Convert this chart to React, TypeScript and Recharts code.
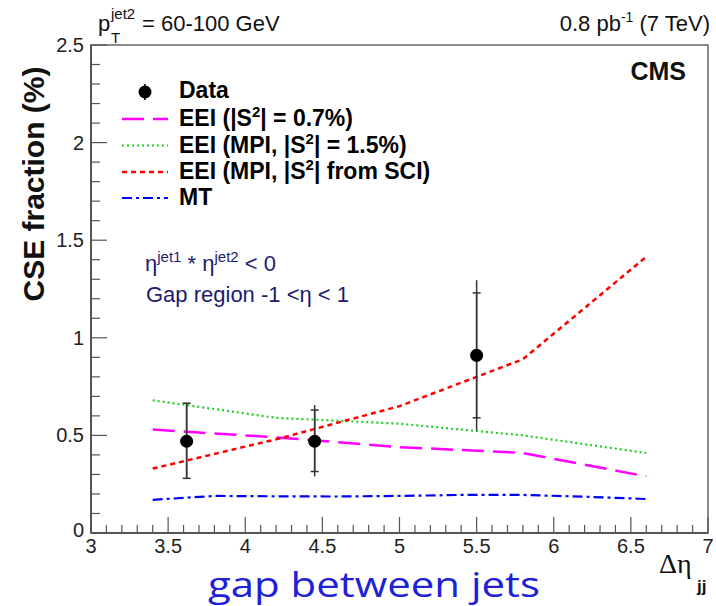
import {
  ComposedChart,
  Line,
  Scatter,
  ErrorBar,
  XAxis,
  YAxis,
  ReferenceArea,
} from 'recharts';

// theory curves, sampled at the bin edges of the model predictions
const modelX = [3.4, 4.2, 5.0, 5.8, 6.6];
const eeiFixed = [0.53, 0.49, 0.44, 0.41, 0.29];
const eeiMpi = [0.68, 0.59, 0.56, 0.5, 0.41];
const eeiSci = [0.33, 0.48, 0.65, 0.89, 1.415];

const mtX = [3.4, 3.8, 4.2, 4.6, 5.0, 5.4, 5.8, 6.2, 6.6];
const mtFrac = [0.17, 0.19, 0.188, 0.187, 0.19, 0.195, 0.195, 0.186, 0.174];

// measured points
const dataX = [3.62, 4.45, 5.5];
const dataY = [0.47, 0.47, 0.91];
const statLow = [0.28, 0.315, 0.59];
const statHigh = [0.665, 0.63, 1.23];
const totLow = [0.28, 0.29, 0.525];
const totHigh = [0.665, 0.655, 1.295];

// axis labels
const xMajor = [3, 3.5, 4, 4.5, 5, 5.5, 6, 6.5, 7];
const yMajor = [0, 0.5, 1, 1.5, 2, 2.5];
const xTicks = Array.from({ length: 41 }, (_, i) => (30 + i) / 10);
const yTicks = Array.from({ length: 26 }, (_, i) => i / 10);

const toRows = (xs: number[], ys: number[]) => xs.map((x, i) => ({ x, v: ys[i] }));

const points = dataX.map((x, i) => ({
  x,
  y: dataY[i],
  tot: [dataY[i] - totLow[i], totHigh[i] - dataY[i]],
  stat: [dataY[i] - statLow[i], statHigh[i] - dataY[i]],
}));

const AXIS = '#555';
const TICK_MARGIN = 6;
const SANS = '"Liberation Sans", Arial, sans-serif';

function YTick(props: any) {
  const { x, y, payload } = props;
  const v = payload.value;
  const major = yMajor.includes(v);
  const ax = x + TICK_MARGIN;
  return (
    <g>
      <line x1={ax} x2={ax + (major ? 16 : 9)} y1={y} y2={y} stroke={AXIS} strokeWidth={1.2} />
      {major && (
        <text x={x - 1} y={y} dy={v === 0 ? 4 : 7} textAnchor="end" fontSize={20} fill="#222" fontFamily={SANS}>
          {String(v)}
        </text>
      )}
    </g>
  );
}

function XTick(props: any) {
  const { x, y, payload } = props;
  const v = payload.value;
  const major = xMajor.includes(v);
  const ay = y - TICK_MARGIN;
  return (
    <g>
      <line x1={x} x2={x} y1={ay} y2={ay - (major ? 16 : 8)} stroke={AXIS} strokeWidth={1.2} />
      {major && (
        <text x={x} y={y} dy={14} textAnchor="middle" fontSize={20} fill="#222" fontFamily={SANS}>
          {String(v)}
        </text>
      )}
    </g>
  );
}

function DataDot(props: any) {
  const { cx, cy } = props;
  return <circle cx={cx} cy={cy} r={6.5} fill="#000" />;
}

const legendRows = [
  { label: 'EEI (', sup: '2', tail: '| = 0.7%)', pre: '|S', color: '#ff00ff', dash: '22 9', w: 2.5 },
  { label: 'EEI (MPI, ', sup: '2', tail: '| = 1.5%)', pre: '|S', color: '#22cc22', dash: '2 3', w: 2.2 },
  { label: 'EEI (MPI, ', sup: '2', tail: '| from SCI)', pre: '|S', color: '#ff0000', dash: '5 4', w: 2.5 },
];

export default function App() {
  return (
    <div style={{ position: 'absolute', left: 0, top: 0, width: 716, height: 606, background: '#fff' }}>
      <ComposedChart
        width={716}
        height={606}
        margin={{ top: 45, right: 8, bottom: 0, left: 0 }}
      >
        <XAxis
          type="number"
          dataKey="x"
          domain={[3, 7]}
          ticks={xTicks}
          interval={0}
          allowDataOverflow
          height={73}
          tickSize={0}
          tickMargin={TICK_MARGIN}
          tick={<XTick />}
          axisLine={{ stroke: AXIS, strokeWidth: 2 }}
        />
        <YAxis
          type="number"
          domain={[0, 2.5]}
          ticks={yTicks}
          interval={0}
          allowDataOverflow
          width={91}
          tickSize={0}
          tickMargin={TICK_MARGIN}
          tick={<YTick />}
          axisLine={{ stroke: AXIS, strokeWidth: 2 }}
        />
        <ReferenceArea x1={3} x2={7} y1={0} y2={2.5} fill="none" stroke="#666" strokeWidth={1.5} />
        <Line data={toRows(modelX, eeiFixed)} dataKey="v" type="linear" stroke="#ff00ff" strokeWidth={2.5} strokeDasharray="22 9" dot={false} activeDot={false} isAnimationActive={false} />
        <Line data={toRows(modelX, eeiMpi)} dataKey="v" type="linear" stroke="#22cc22" strokeWidth={2.2} strokeDasharray="2 3" dot={false} activeDot={false} isAnimationActive={false} />
        <Line data={toRows(modelX, eeiSci)} dataKey="v" type="linear" stroke="#ff0000" strokeWidth={2.5} strokeDasharray="5 4" dot={false} activeDot={false} isAnimationActive={false} />
        <Line data={toRows(mtX, mtFrac)} dataKey="v" type="linear" stroke="#0000ff" strokeWidth={2.2} strokeDasharray="10 4 3 4" dot={false} activeDot={false} isAnimationActive={false} />
        <Scatter data={points} dataKey="y" shape={<DataDot />} isAnimationActive={false}>
          <ErrorBar dataKey="tot" direction="y" width={0} stroke="#333" strokeWidth={1.5} isAnimationActive={false} />
          <ErrorBar dataKey="stat" direction="y" width={4} stroke="#333" strokeWidth={1.5} isAnimationActive={false} />
        </Scatter>
      </ComposedChart>

      <svg width={716} height={606} style={{ position: 'absolute', left: 0, top: 0, pointerEvents: 'none' }}>
        <g fontFamily={SANS} fill="#111">
          <text x={98} y={31} fontSize={22}>p</text>
          <text x={111} y={19} fontSize={15}>jet2</text>
          <text x={111} y={43} fontSize={15}>T</text>
          <text x={142} y={31} fontSize={22}>= 60-100 GeV</text>

          <text x={710} y={31} fontSize={22} textAnchor="end">
            0.8 pb<tspan dy={-9} fontSize={14}>-1</tspan>
            <tspan dy={9}> (7 TeV)</tspan>
          </text>

          <text x={686} y={80} fontSize={25} fontWeight="bold" textAnchor="end">CMS</text>

          <text
            transform="translate(44,184) rotate(-90)"
            fontSize={30}
            fontWeight="bold"
            textAnchor="middle"
          >
            CSE fraction (%)
          </text>
        </g>

        {/* legend */}
        <g fontFamily={SANS} fontWeight="bold" fontSize={23} fill="#000">
          <line x1={145} x2={145} y1={84} y2={100} stroke="#000" strokeWidth={1.5} />
          <circle cx={145} cy={92} r={6.5} fill="#000" />
          <text x={179} y={98}>Data</text>
          {legendRows.map((r, i) => {
            const base = 126 + i * 26.5;
            return (
              <g key={i}>
                <line x1={122} x2={168} y1={base - 7} y2={base - 7} stroke={r.color} strokeWidth={r.w} strokeDasharray={r.dash} />
                <text x={179} y={base}>
                  {r.label}
                  {r.pre}
                  <tspan dy={-9} fontSize={15}>{r.sup}</tspan>
                  <tspan dy={9}>{r.tail}</tspan>
                </text>
              </g>
            );
          })}
          <line x1={122} x2={168} y1={198} y2={198} stroke="#0000ff" strokeWidth={2.2} strokeDasharray="10 4 3 4" />
          <text x={179} y={205}>MT</text>
        </g>

        {/* selection note */}
        <g fontFamily={SANS} fontSize={22} fill="#1c1c6e">
          <text x={145} y={271}>
            η<tspan dy={-9} fontSize={15}>jet1</tspan>
            <tspan dy={9}> * η</tspan>
            <tspan dy={-9} fontSize={15}>jet2</tspan>
            <tspan dy={9}> &lt; 0</tspan>
          </text>
          <text x={146} y={302}>Gap region -1 &lt;η &lt; 1</text>
        </g>

        {/* x-axis title */}
        <text x={659} y={573} fontSize={28} fontFamily='"Liberation Serif", serif' fill="#111">Δη</text>
        <text x={697} y={592} fontSize={17} fontWeight="bold" fontFamily={SANS} fill="#111">jj</text>
        <text
          x={208}
          y={597}
          fontSize={35}
          textLength={332}
          lengthAdjust="spacingAndGlyphs"
          fontFamily='"Open Sans", Lato, sans-serif'
          fill="#2020d8"
        >
          gap between jets
        </text>
      </svg>
    </div>
  );
}
